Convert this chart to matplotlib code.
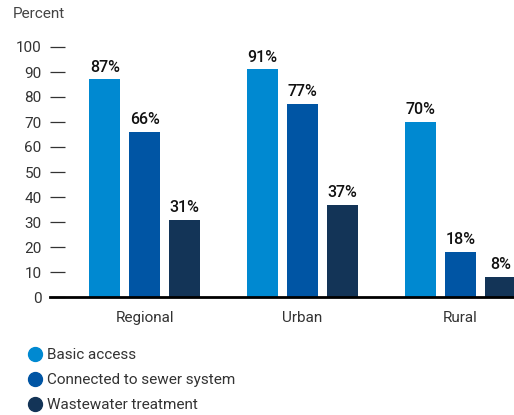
import numpy as np
import matplotlib
matplotlib.use("Agg")
import matplotlib.pyplot as plt
from matplotlib.lines import Line2D

plt.rcParams["font.family"] = ["Roboto", "DejaVu Sans"]

# Data
regions = ["Regional", "Urban", "Rural"]
series = ["Basic access", "Connected to sewer system", "Wastewater treatment"]
basic_access = [87, 91, 70]
sewer = [66, 77, 18]
treatment = [31, 37, 8]
colors = ["#0089d1", "#0055a4", "#133457"]

fig = plt.figure(figsize=(5.14, 4.15), dpi=100)
ax = fig.add_axes([50 / 514, 118 / 415, 464 / 514, 250 / 415])

x = np.arange(len(regions))
width = 0.196
step = 0.253
for i, (vals, col) in enumerate(zip([basic_access, sewer, treatment], colors)):
    pos = x + (i - 1) * step
    ax.bar(pos, vals, width=width, color=col, zorder=2)
    for p, v in zip(pos, vals):
        ax.text(p, v + 2, f"{v}%", ha="center", va="bottom",
                fontsize=11.5, fontweight="medium", color="#111111")

ax.set_xlim(-0.60, 2.34)
ax.set_ylim(0, 100)
ax.set_yticks(range(0, 101, 10))
ax.set_xticks(x)
ax.set_xticklabels(regions)

for s in ["top", "right", "left"]:
    ax.spines[s].set_visible(False)
ax.spines["bottom"].set_linewidth(2)
ax.spines["bottom"].set_color("#000000")
ax.spines["bottom"].set_zorder(3)

ax.tick_params(axis="y", direction="in", length=11, width=0.9, color="#333333",
               pad=6, labelsize=11, labelcolor="#333333")
ax.tick_params(axis="x", length=0, pad=10, labelsize=11, labelcolor="#333333")

fig.text(13 / 514, 1 - 14 / 415, "Percent", fontsize=11, color="#444444",
         va="center", ha="left")

handles = [Line2D([], [], marker="o", linestyle="none", markersize=10,
                  markerfacecolor=c, markeredgecolor=c) for c in colors]
fig.legend(handles, series, loc="upper left", bbox_to_anchor=(26 / 514, 1 - 348 / 415),
           frameon=False, fontsize=11, handletextpad=0.2, labelspacing=0.72,
           handlelength=1.2, borderaxespad=0, borderpad=0, labelcolor="#333333")

fig.savefig("out.png", dpi=100)
